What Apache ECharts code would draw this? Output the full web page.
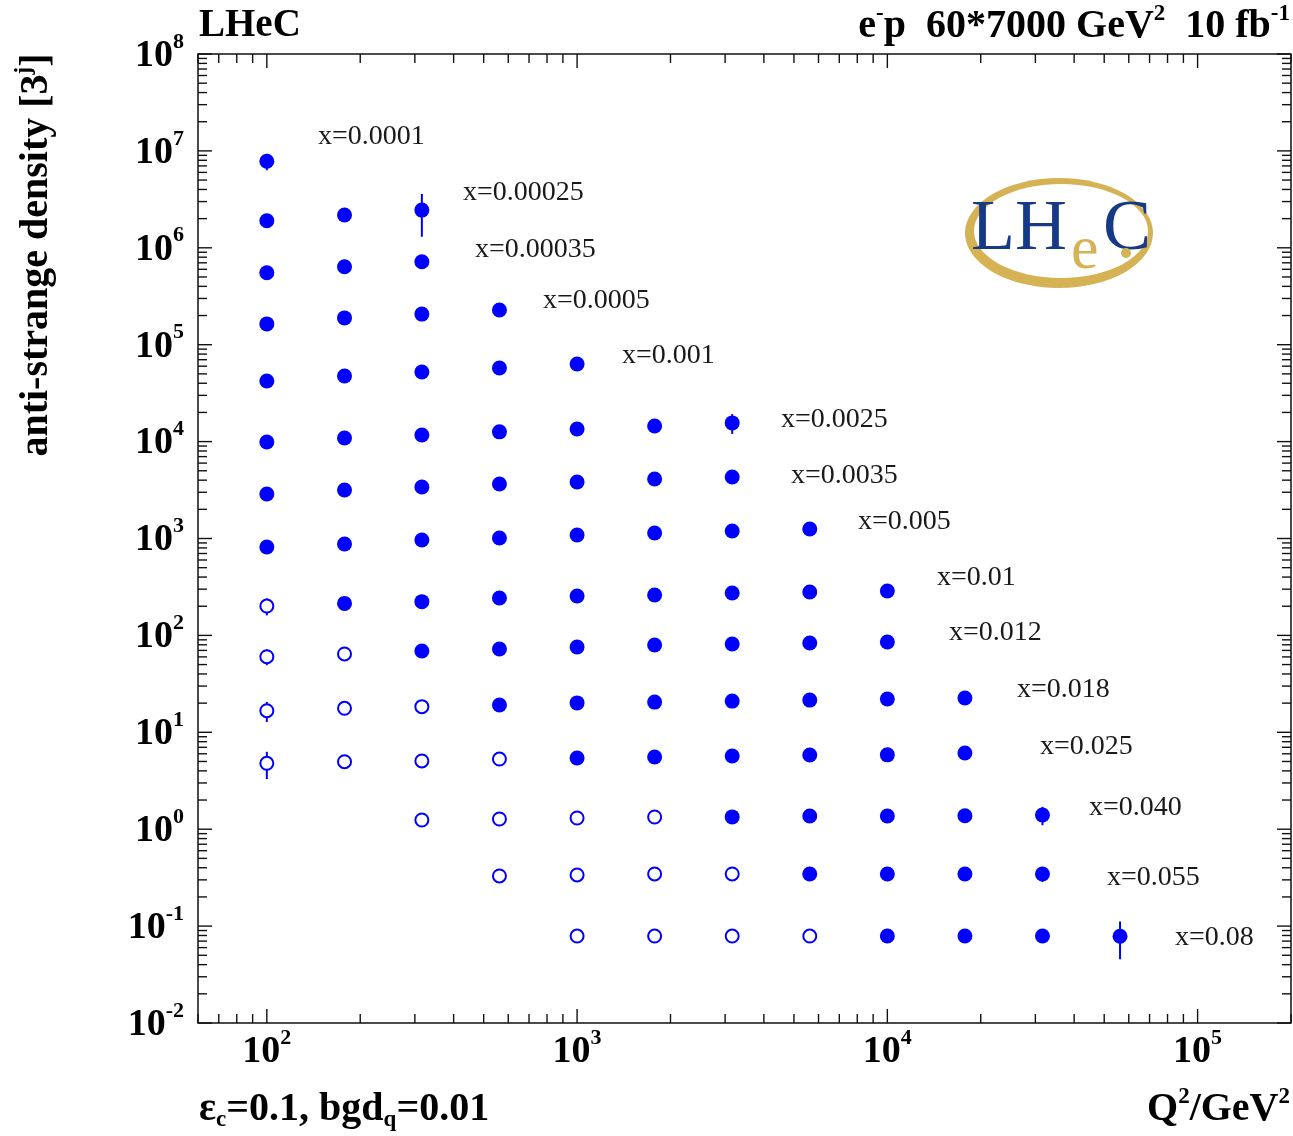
<!DOCTYPE html>
<html>
<head>
<meta charset="utf-8">
<script src="https://cdn.jsdelivr.net/npm/echarts@6/dist/echarts.min.js"></script>
<style>
  html, body { margin: 0; padding: 0; background: #fff; }
  #chart { width: 1293px; height: 1136px; }
</style>
</head>
<body>
<div id="chart"></div>
<script>
// Q^2 bin centres (GeV^2), shared by every x row
const q2Bins = [100, 178, 316, 562, 1000, 1778, 3162, 5623, 10000, 17783, 31623, 56234];

// Bjorken-x of each row, from top to bottom
const xBins = ['0.0001', '0.00025', '0.00035', '0.0005', '0.001', '0.0025', '0.0035',
               '0.005', '0.01', '0.012', '0.018', '0.025', '0.040', '0.055', '0.08'];

// index into q2Bins of the first measured point of each row
const firstBin = [0, 0, 0, 0, 0, 0, 0, 0, 0, 0, 0, 0, 2, 3, 4];

// number of leading points in each row drawn as hollow markers
const hollowCount = [0, 0, 0, 0, 0, 0, 0, 0, 1, 2, 3, 4, 4, 4, 4];

// anti-strange density, scaled by 3^j per row
const density = [
  [7.81e6],
  [1.90e6, 2.18e6, 2.45e6],
  [5.53e5, 6.38e5, 7.19e5],
  [1.64e5, 1.89e5, 2.07e5, 2.28e5],
  [4.22e4, 4.75e4, 5.23e4, 5.75e4, 6.32e4],
  [9.9e3, 1.09e4, 1.17e4, 1.26e4, 1.35e4, 1.45e4, 1.56e4],
  [2.88e3, 3.17e3, 3.40e3, 3.65e3, 3.83e3, 4.11e3, 4.31e3],
  [817, 878, 965, 1012, 1087, 1140, 1195, 1253],
  [201, 214, 223, 243, 255, 261, 274, 280, 287],
  [60.3, 64.3, 69.0, 72.4, 75.9, 79.6, 81.5, 83.5, 85.5],
  [16.7, 17.7, 18.4, 19.1, 20.1, 20.5, 21.0, 21.5, 22.1, 22.6],
  [4.79, 4.97, 5.06, 5.30, 5.43, 5.56, 5.69, 5.83, 5.85, 6.11],
  [1.244, 1.274, 1.305, 1.336, 1.34, 1.368, 1.37, 1.375, 1.40],
  [0.329, 0.337, 0.345, 0.345, 0.345, 0.345, 0.345, 0.345],
  [0.079, 0.079, 0.079, 0.079, 0.079, 0.079, 0.079, 0.0785]
];

// symmetric uncertainty of each point
const densityErr = [
  [1.5e6],
  [0.1e6, 0.1e6, 1.15e6],
  [2e4, 2e4, 3e4],
  [5e3, 5e3, 6e3, 1.5e4],
  [1e3, 1e3, 1.2e3, 1.5e3, 3e3],
  [200, 200, 250, 300, 400, 700, 3.6e3],
  [60, 60, 70, 80, 100, 150, 350],
  [15, 15, 20, 20, 25, 30, 40, 60],
  [40, 5, 5, 5, 6, 7, 8, 10, 18],
  [11, 5, 2, 2, 2, 2, 2, 3, 4],
  [3.9, 1.5, 1.2, 0.5, 0.5, 0.6, 0.6, 0.7, 0.9, 1.6],
  [1.5, 0.75, 0.4, 0.3, 0.15, 0.15, 0.15, 0.2, 0.2, 0.35],
  [0.15, 0.12, 0.1, 0.08, 0.04, 0.04, 0.05, 0.06, 0.3],
  [0.04, 0.03, 0.03, 0.02, 0.01, 0.01, 0.02, 0.06],
  [0.012, 0.008, 0.008, 0.006, 0.003, 0.003, 0.005, 0.033]
];

// axis ranges
const q2Range = [60, 2e5];
const densityRange = [0.01, 1e8];

// where each row's "x=..." caption sits (pixels: left edge, vertical centre)
const captionPos = [
  [318, 137], [463, 193], [475, 250], [543, 301], [622, 356], [781, 420], [791, 476],
  [858, 522], [937, 578], [949, 633], [1017, 690], [1040, 747], [1089, 808], [1107, 878], [1175, 938]
];

const SERIF = 'Liberation Serif';
const BLUE = '#0000ff';

const filledPts = [];
const hollowPts = [];
const errPts = [];
density.forEach((row, r) => {
  row.forEach((v, i) => {
    const q = q2Bins[firstBin[r] + i];
    (i < hollowCount[r] ? hollowPts : filledPts).push([q, v]);
    errPts.push([q, v, densityErr[r][i]]);
  });
});

const labelRich = {
  b: { fontFamily: SERIF, fontWeight: 'bold', fontSize: 38, fill: '#000', verticalAlign: 'middle' },
  s: { fontFamily: SERIF, fontWeight: 'bold', fontSize: 22, fill: '#000', verticalAlign: 'middle', padding: [0, 0, 28, 0] }
};

function renderErrors(params, api) {
  const q = api.value(0), v = api.value(1), e = api.value(2);
  const lo = Math.max(v - e, densityRange[0] * 0.5);
  const p1 = api.coord([q, lo]);
  const p2 = api.coord([q, v + e]);
  return {
    type: 'line',
    shape: { x1: p1[0], y1: p1[1], x2: p2[0], y2: p2[1] },
    style: { stroke: BLUE, lineWidth: 2 }
  };
}

// frame ticks on all four sides plus decade labels
function renderAxes(params, api) {
  const bl = api.coord([q2Range[0], densityRange[0]]);
  const tr = api.coord([q2Range[1], densityRange[1]]);
  const x0 = bl[0], y0 = bl[1], x1 = tr[0], y1 = tr[1];
  const children = [];
  const seg = (a, b, c, d) => children.push({
    type: 'line', shape: { x1: a, y1: b, x2: c, y2: d }, style: { stroke: '#111', lineWidth: 1.4 }
  });
  for (let k = -2; k <= 8; k++) {
    for (let m = 1; m <= 9; m++) {
      const v = m * Math.pow(10, k);
      if (v < densityRange[0] * 0.999 || v > densityRange[1] * 1.001) continue;
      const y = api.coord([q2Range[0], v])[1];
      const len = m === 1 ? 14 : 9;
      seg(x0, y, x0 + len, y);
      seg(x1, y, x1 - len, y);
      if (m === 1) {
        children.push({
          type: 'text', x: x0 - 14, y: y + 2,
          style: { text: '{b|10}{s|' + k + '}', rich: labelRich, align: 'right', verticalAlign: 'middle' }
        });
      }
    }
  }
  for (let k = 1; k <= 5; k++) {
    for (let m = 1; m <= 9; m++) {
      const q = m * Math.pow(10, k);
      if (q < q2Range[0] * 0.999 || q > q2Range[1] * 1.001) continue;
      const x = api.coord([q, densityRange[0]])[0];
      const len = m === 1 ? 14 : 9;
      seg(x, y0, x, y0 - len);
      seg(x, y1, x, y1 + len);
      if (m === 1) {
        children.push({
          type: 'text', x: x, y: y0 + 29,
          style: { text: '{b|10}{s|' + k + '}', rich: labelRich, align: 'center', verticalAlign: 'middle' }
        });
      }
    }
  }
  return { type: 'group', children: children };
}

const boldText = (size) => ({ fontFamily: SERIF, fontWeight: 'bold', fontSize: size, fill: '#000', verticalAlign: 'middle' });
const supText = (size, lift) => Object.assign(boldText(size), { padding: [0, 0, lift, 0] });
const subText = (size, drop) => Object.assign(boldText(size), { padding: [drop, 0, 0, 0] });

const graphics = [
  // experiment tag
  { type: 'text', x: 199, y: 26, style: { text: 'LHeC', fontFamily: SERIF, fontWeight: 'bold', fontSize: 39, fill: '#000', align: 'left', verticalAlign: 'middle' } },
  // beam configuration
  { type: 'text', x: 1290, y: 27, style: {
      text: '{b|e}{s|-}{b|p  60*7000 GeV}{s|2}{b|  10 fb}{s|-1}',
      rich: { b: boldText(40), s: supText(23, 26) }, align: 'right', verticalAlign: 'middle' } },
  // analysis settings
  { type: 'text', x: 199, y: 1110, style: {
      text: '{b|ε}{u|c}{b|=0.1, bgd}{u|q}{b|=0.01}',
      rich: { b: boldText(40), u: subText(23, 20) }, align: 'left', verticalAlign: 'middle' } },
  // x-axis title
  { type: 'text', x: 1290, y: 1110, style: {
      text: '{b|Q}{s|2}{b|/GeV}{s|2}',
      rich: { b: boldText(40), s: supText(23, 26) }, align: 'right', verticalAlign: 'middle' } },
  // y-axis title
  { type: 'text', x: 37, y: 255, rotation: Math.PI / 2, style: {
      text: '{b|anti-strange density [3}{s|j}{b|]}',
      rich: { b: boldText(40), s: supText(23, 26) }, align: 'center', verticalAlign: 'middle' } },
  // LHeC logo
  { type: 'circle', x: 1059, y: 233, scaleX: 94 / 55, shape: { cx: 0, cy: 0, r: 55 }, style: { fill: '#d5b253' } },
  { type: 'circle', x: 1061, y: 231, scaleX: 87 / 47, shape: { cx: 0, cy: 0, r: 47 }, style: { fill: '#fff' } },
  { type: 'text', x: 971, y: 230, style: { text: 'LH', fontFamily: SERIF, fontSize: 72, fill: '#173a86', align: 'left', verticalAlign: 'middle' } },
  { type: 'text', x: 1071, y: 252, style: { text: 'e', fontFamily: SERIF, fontSize: 62, fill: '#d5b253', align: 'left', verticalAlign: 'middle' } },
  { type: 'text', x: 1103, y: 230, style: { text: 'C', fontFamily: SERIF, fontSize: 72, fill: '#173a86', align: 'left', verticalAlign: 'middle' } },
  { type: 'circle', shape: { cx: 1126, cy: 253, r: 5 }, style: { fill: '#d5b253' } }
];

// row captions
xBins.forEach((xb, r) => {
  graphics.push({
    type: 'text', x: captionPos[r][0], y: captionPos[r][1],
    style: { text: 'x=' + xb, fontFamily: SERIF, fontSize: 28, fill: '#1a1a1a', align: 'left', verticalAlign: 'middle' }
  });
});

const chart = echarts.init(document.getElementById('chart'), null, { renderer: 'canvas' });
chart.setOption({
  animation: false,
  backgroundColor: '#fff',
  grid: { left: 198, top: 54, right: 2, bottom: 113, show: true, borderColor: '#111', borderWidth: 1.5, outerBoundsMode: 'none' },
  xAxis: {
    type: 'log', logBase: 10, min: q2Range[0], max: q2Range[1],
    axisLine: { show: false }, axisTick: { show: false }, axisLabel: { show: false }, splitLine: { show: false }
  },
  yAxis: {
    type: 'log', logBase: 10, min: densityRange[0], max: densityRange[1],
    axisLine: { show: false }, axisTick: { show: false }, axisLabel: { show: false }, splitLine: { show: false }
  },
  series: [
    { type: 'custom', name: 'frame', data: [[q2Bins[0], 1]], renderItem: renderAxes, silent: true, clip: false, z: 5 },
    { type: 'custom', name: 'errors', data: errPts, renderItem: renderErrors, silent: true, clip: false, z: 1 },
    { type: 'scatter', name: 'filled', data: filledPts, symbol: 'circle', symbolSize: 15,
      itemStyle: { color: BLUE, opacity: 1 }, z: 3, silent: true },
    { type: 'scatter', name: 'hollow', data: hollowPts, symbol: 'circle', symbolSize: 13,
      itemStyle: { color: '#fff', borderColor: BLUE, borderWidth: 2, opacity: 1 }, z: 3, silent: true }
  ],
  graphic: graphics
});
</script>
</body>
</html>
